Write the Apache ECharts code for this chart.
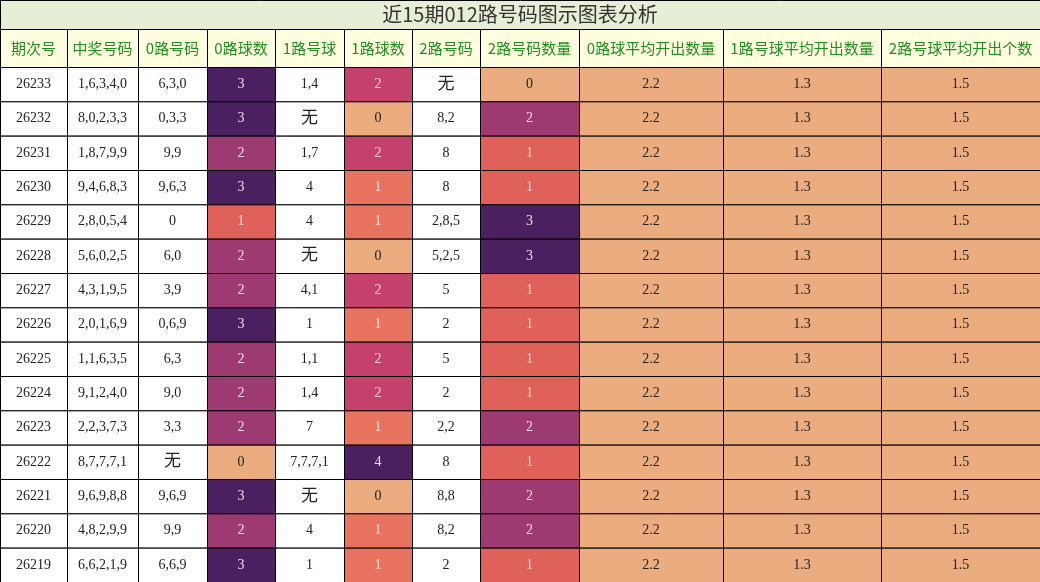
<!DOCTYPE html><html><head><meta charset="utf-8">
<script src="https://cdn.jsdelivr.net/npm/echarts@6/dist/echarts.min.js"></script>
<style>html,body{margin:0;padding:0;background:#fff}#c{width:1040px;height:582px}</style></head><body><div id="c"></div>
<script>
const title="近15期012路号码图示图表分析";
const headers=["期次号","中奖号码","0路号码","0路球数","1路号球","1路球数","2路号码","2路号码数量","0路球平均开出数量","1路号球平均开出数量","2路号球平均开出个数"];
const periods=[26233,26232,26231,26230,26229,26228,26227,26226,26225,26224,26223,26222,26221,26220,26219];
const winning=["1,6,3,4,0","8,0,2,3,3","1,8,7,9,9","9,4,6,8,3","2,8,0,5,4","5,6,0,2,5","4,3,1,9,5","2,0,1,6,9","1,1,6,3,5","9,1,2,4,0","2,2,3,7,3","8,7,7,7,1","9,6,9,8,8","4,8,2,9,9","6,6,2,1,9"];
const r0=["6,3,0","0,3,3","9,9","9,6,3","0","6,0","3,9","0,6,9","6,3","9,0","3,3","无","9,6,9","9,9","6,6,9"];
const c0=[3,3,2,3,1,2,2,3,2,2,2,0,3,2,3];
const r1=["1,4","无","1,7","4","4","无","4,1","1","1,1","1,4","7","7,7,7,1","无","4","1"];
const c1=[2,0,2,1,1,0,2,1,2,2,1,4,0,1,1];
const r2=["无","8,2","8","8","2,8,5","5,2,5","5","2","5","2","2,2","8","8,8","8,2","2"];
const c2=[0,2,1,1,3,3,1,1,1,1,2,1,2,2,1];
const avg0=2.2, avg1=1.3, avg2=1.5;

const edges=[0,67,138,207,275,344,412,480,579,723,881,1040];
const rowTop=[0,29,67];
const rowH=(582-67)/15;
const palA={0:'#ebad7f',1:'#e0605a',2:'#9e3a72',3:'#4b2060'};
const palB={0:'#ebad7f',1:'#e8735f',2:'#c5406a',3:'#7a2e6e',4:'#4b2060'};
const cells=[];
// title
cells.push([0,11,0,29,title,'#e6eed5','#333',20,'title']);
headers.forEach((h,i)=>cells.push([edges[i],edges[i+1],29,67,h,'#ffffe0','#1f8f1f',15,'h']));
periods.forEach((p,r)=>{
  const y0=67+r*rowH,y1=y0+rowH;
  const row=[
    [String(p),'#fff','#222'],[winning[r],'#fff','#222'],[r0[r],'#fff','#222'],
    [String(c0[r]),palA[c0[r]],c0[r]===0?'#222':'#f3dede'],
    [r1[r],'#fff','#222'],
    [String(c1[r]),palB[c1[r]],c1[r]===0?'#222':'#f3dede'],
    [r2[r],'#fff','#222'],
    [String(c2[r]),palA[c2[r]],c2[r]===0?'#222':'#f3dede'],
    [String(avg0),'#ebad7f','#222'],[String(avg1),'#ebad7f','#222'],[String(avg2),'#ebad7f','#222']];
  row.forEach((c,i)=>cells.push([edges[i],edges[i+1],y0,y1,c[0],c[1],c[2],c[0]==='无'?17:14,'d']));
});
cells[0][1]=1040;
const chart=echarts.init(document.getElementById('c'));
chart.setOption({animation:false,
 grid:{left:0,right:0,top:0,bottom:0},
 xAxis:{type:'value',min:0,max:1040,show:false},
 yAxis:{type:'value',min:0,max:582,inverse:true,show:false},
 series:[{type:'custom',data:cells,renderItem:(p,api)=>{
   const d=cells[p.dataIndex];
   const a=api.coord([d[0],d[2]]),b=api.coord([d[1],d[3]]);
   const ff=d[8]==='d'?'"Liberation Serif","Noto Sans CJK SC",serif':'"Noto Sans CJK SC",sans-serif';
   return {type:'group',children:[
    {type:'rect',shape:{x:a[0]+0.5,y:a[1]+0.5,width:b[0]-a[0],height:b[1]-a[1]},style:{fill:d[5],stroke:'#000',lineWidth:1}},
    {type:'text',style:{x:(a[0]+b[0])/2,y:(a[1]+b[1])/2,text:d[4],fill:d[6],font:d[7]+'px '+ff,align:'center',verticalAlign:'middle'}}]};
 }}]});
</script></body></html>
